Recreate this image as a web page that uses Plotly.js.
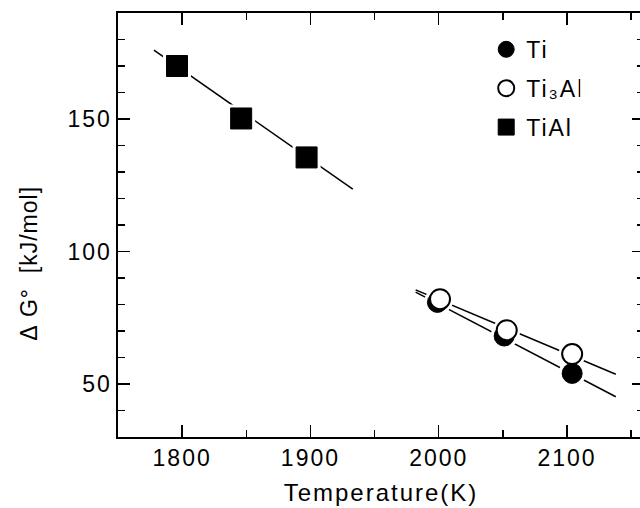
<!DOCTYPE html>
<html>
<head>
<meta charset="utf-8">
<script src="https://cdn.plot.ly/plotly-3.0.1.min.js"></script>
<style>
html,body{margin:0;padding:0;background:#fff;overflow:hidden;width:640px;height:508px;}
#chart{width:650px;height:508px;}
.main-svg text{letter-spacing:2px;}
.main-svg .annotation-text{letter-spacing:1px;}
</style>
</head>
<body>
<div id="chart"></div>
<script>
// Data
const tiAlT = [1796, 1846, 1897];
const tiAlG = [170.0, 150.2, 135.5];
const tiT = [1999, 2051, 2104];
const tiG = [80.8, 68.1, 54.0];
const ti3AlT = [2001, 2053, 2104];
const ti3AlG = [82.0, 70.3, 61.3];
// Fitted straight lines (end points)
const tiAlFitT = [1778, 1933];
const tiAlFitG = [176.0, 123.5];
const tiFitT = [1982, 2138];
const tiFitG = [84.7, 45.2];
const ti3AlFitT = [1982, 2138];
const ti3AlFitG = [85.5, 53.7];
const seriesNames = ['Ti', 'Ti\u2083Al', 'TiAl'];

const FONT = 'Liberation Sans, Arial, Helvetica, sans-serif';
const lineStyle = {color: '#000', width: 1.5};

const traces = [
  {x: tiAlFitT, y: tiAlFitG, mode: 'lines', line: lineStyle, showlegend: false, hoverinfo: 'skip'},
  {x: tiFitT, y: tiFitG, mode: 'lines', line: lineStyle, showlegend: false, hoverinfo: 'skip'},
  {x: ti3AlFitT, y: ti3AlFitG, mode: 'lines', line: lineStyle, showlegend: false, hoverinfo: 'skip'},
  // white halos that break the lines around the markers
  {x: tiAlT, y: tiAlG, mode: 'markers', marker: {symbol: 'square', size: 28, color: '#fff'}, showlegend: false, hoverinfo: 'skip'},
  {x: tiT, y: tiG, mode: 'markers', marker: {symbol: 'circle', size: 27, color: '#fff'}, showlegend: false, hoverinfo: 'skip'},
  {x: ti3AlT, y: ti3AlG, mode: 'markers', marker: {symbol: 'circle', size: 27, color: '#fff'}, showlegend: false, hoverinfo: 'skip'},
  // data
  {x: tiT, y: tiG, mode: 'markers', name: seriesNames[0], legendgroup: 'a',
   marker: {symbol: 'circle', size: 20, color: '#000', line: {color: '#000', width: 1}}},
  {x: ti3AlT, y: ti3AlG, mode: 'markers', name: seriesNames[1], legendgroup: 'b',
   marker: {symbol: 'circle', size: 20, color: '#fff', line: {color: '#000', width: 2}}},
  {x: tiAlT, y: tiAlG, mode: 'markers', name: seriesNames[2], legendgroup: 'c',
   marker: {symbol: 'square', size: 21, color: '#000', line: {color: '#000', width: 1}}}
];

const axisCommon = {
  showgrid: false, zeroline: false,
  showline: true, linecolor: '#000', linewidth: 1.6,
  mirror: 'ticks', ticks: 'inside', ticklen: 12, tickwidth: 1.5, tickcolor: '#000',
  tickfont: {family: FONT, size: 23, color: '#000'}
};

const layout = {
  width: 650, height: 508,
  margin: {l: 118, r: 6, t: 13, b: 71},
  paper_bgcolor: '#fff', plot_bgcolor: '#fff',
  font: {family: FONT, color: '#000'},
  xaxis: Object.assign({}, axisCommon, {
    range: [1750, 2160], tick0: 1800, dtick: 100,
    minor: {dtick: 50, ticks: 'inside', ticklen: 7, tickwidth: 1.5, tickcolor: '#000'},
    title: {text: 'Temperature(K)', font: {family: FONT, size: 24, color: '#000'}, standoff: 14}
  }),
  yaxis: Object.assign({}, axisCommon, {
    range: [30, 190], tick0: 0, dtick: 50,
    minor: {dtick: 10, ticks: 'inside', ticklen: 7, tickwidth: 1.5, tickcolor: '#000'}
  }),
  legend: {
    x: 0.7, xanchor: 'left', y: 0.965, yanchor: 'top',
    bgcolor: 'rgba(0,0,0,0)', borderwidth: 0,
    font: {family: FONT, size: 23, color: '#000'},
    tracegroupgap: 6, itemsizing: 'trace'
  },
  annotations: [{
    text: 'Δ\u00a0G°\u00a0\u00a0[kJ/mol]', textangle: -90,
    xref: 'paper', yref: 'paper', x: -0.168, y: 0.41,
    xanchor: 'center', yanchor: 'middle', showarrow: false,
    font: {family: FONT, size: 23, color: '#000'}
  }],
  showlegend: true
};

Plotly.newPlot('chart', traces, layout, {displayModeBar: false, staticPlot: true});
</script>
</body>
</html>
